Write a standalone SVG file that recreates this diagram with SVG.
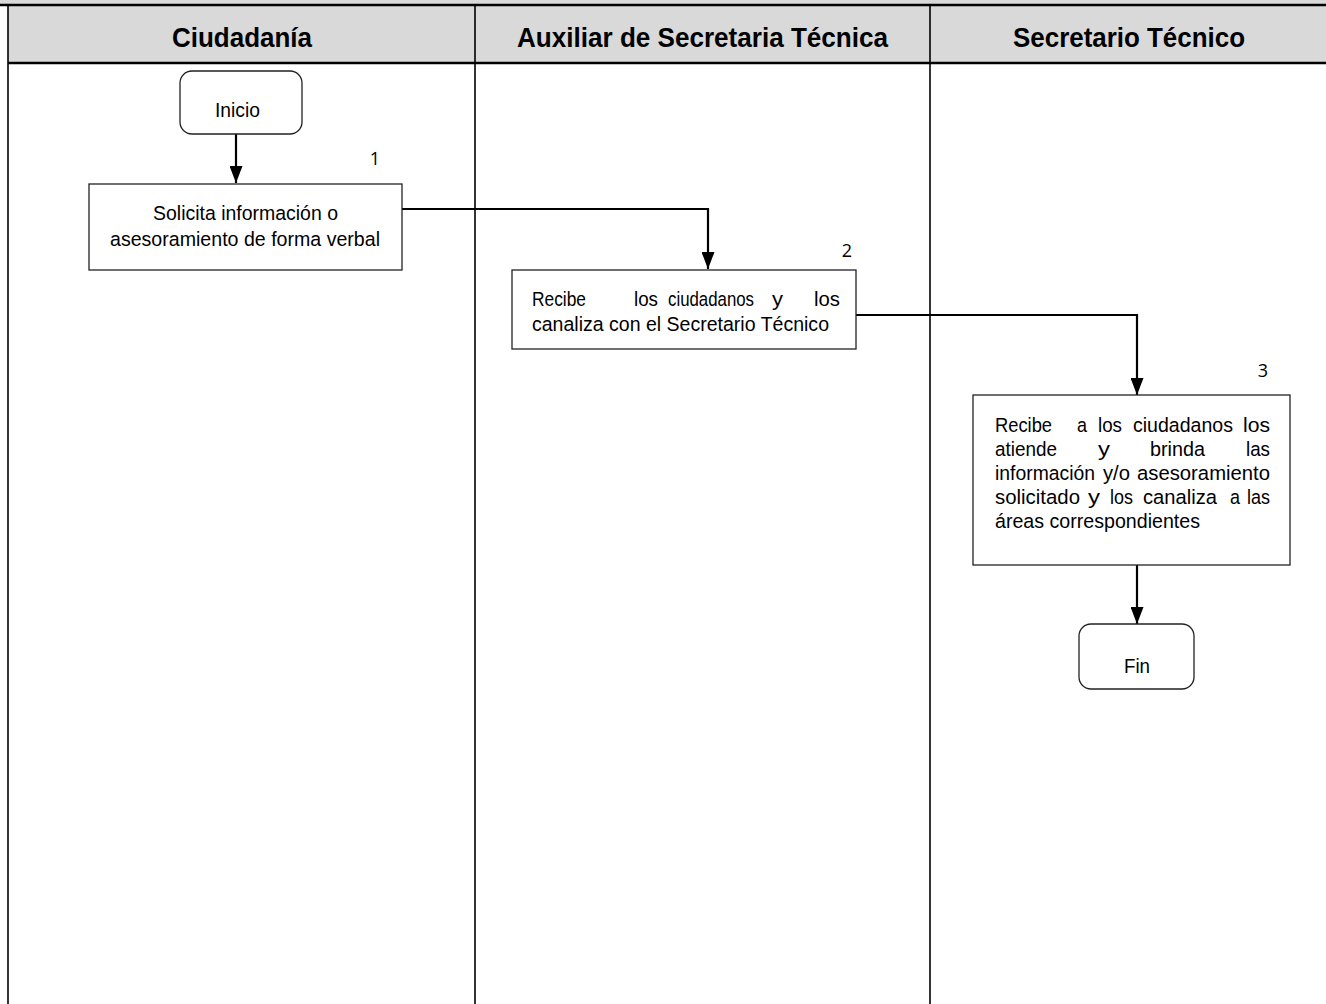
<svg xmlns="http://www.w3.org/2000/svg" width="1326" height="1004" viewBox="0 0 1326 1004">
  <style>
    .lane { stroke: #000; stroke-width: 1.6; }
    .hline { stroke: #000; stroke-width: 2.5; }
    .hdr { font-family: "Liberation Sans", Arial, sans-serif; font-weight: bold; font-size: 27px; fill: #000; }
    .box { fill: #fff; stroke: #222; stroke-width: 1.3; }
    .txt { font-family: "Liberation Sans", Arial, sans-serif; font-size: 20.5px; fill: #000; }
    .num { font-family: "Open Sans", "Noto Sans", sans-serif; font-size: 18px; fill: #000; text-anchor: middle; }
    .conn { fill: none; stroke: #000; stroke-width: 2.2; }
  </style>
  <defs>
    <marker id="arrow" viewBox="0 0 17 13" refX="17" refY="6.5" markerWidth="17" markerHeight="13" markerUnits="userSpaceOnUse" orient="auto">
      <path d="M0,0 L17,6.5 L0,13 z" fill="#000"/>
    </marker>
  </defs>

  <rect width="1326" height="1004" fill="#fff"/>

  <!-- header band -->
  <g id="header">
    <rect x="0" y="0" width="1326" height="5" fill="#d9d9d9"/>
    <rect x="8" y="5" width="1318" height="58" fill="#d9d9d9"/>
    <line class="hline" x1="0" y1="5" x2="1326" y2="5"/>
    <line class="hline" x1="8" y1="63" x2="1326" y2="63"/>
    <text class="hdr" x="172" y="47" textLength="140" lengthAdjust="spacingAndGlyphs">Ciudadanía</text>
    <text class="hdr" x="517" y="47" textLength="371" lengthAdjust="spacingAndGlyphs">Auxiliar de Secretaria Técnica</text>
    <text class="hdr" x="1013" y="47" textLength="232" lengthAdjust="spacingAndGlyphs">Secretario Técnico</text>
  </g>

  <!-- swimlane borders -->
  <g id="lanes">
    <line class="lane" x1="8" y1="5" x2="8" y2="1004" stroke-width="2"/>
    <line class="lane" x1="475" y1="5" x2="475" y2="1004"/>
    <line class="lane" x1="930" y1="5" x2="930" y2="1004"/>
  </g>

  <!-- connectors -->
  <g id="connectors">
    <path class="conn" d="M236,134 V183" marker-end="url(#arrow)"/>
    <path class="conn" d="M402,209 H708 V269" marker-end="url(#arrow)"/>
    <path class="conn" d="M856,315 H1137 V395" marker-end="url(#arrow)"/>
    <path class="conn" d="M1137,565 V624" marker-end="url(#arrow)"/>
  </g>

  <g id="inicio">
    <rect class="box" x="180" y="71" width="122" height="63" rx="12"/>
    <text class="txt" x="215" y="117" textLength="45" lengthAdjust="spacingAndGlyphs">Inicio</text>
  </g>

  <g id="step1">
    <text class="num" x="375" y="165">1</text>
    <rect class="box" x="89" y="184" width="313" height="86"/>
    <text class="txt" x="153" y="220" textLength="185" lengthAdjust="spacingAndGlyphs">Solicita información o</text>
    <text class="txt" x="110" y="246" textLength="270" lengthAdjust="spacingAndGlyphs">asesoramiento de forma verbal</text>
  </g>

  <g id="step2">
    <text class="num" x="847" y="257">2</text>
    <rect class="box" x="512" y="270" width="344" height="79"/>
    <text class="txt" x="532" y="306" textLength="54" lengthAdjust="spacingAndGlyphs">Recibe</text>
    <text class="txt" x="634" y="306" textLength="24" lengthAdjust="spacingAndGlyphs">los</text>
    <text class="txt" x="668" y="306" textLength="86" lengthAdjust="spacingAndGlyphs">ciudadanos</text>
    <text class="txt" x="772" y="306" textLength="11" lengthAdjust="spacingAndGlyphs">y</text>
    <text class="txt" x="814" y="306" textLength="26" lengthAdjust="spacingAndGlyphs">los</text>
    <text class="txt" x="532" y="331" textLength="297" lengthAdjust="spacingAndGlyphs">canaliza con el Secretario Técnico</text>
  </g>

  <g id="step3">
    <text class="num" x="1263" y="377">3</text>
    <rect class="box" x="973" y="395" width="317" height="170"/>
    <text class="txt" x="995" y="432" textLength="57" lengthAdjust="spacingAndGlyphs">Recibe</text>
    <text class="txt" x="1077" y="432" textLength="10" lengthAdjust="spacingAndGlyphs">a</text>
    <text class="txt" x="1098" y="432" textLength="24" lengthAdjust="spacingAndGlyphs">los</text>
    <text class="txt" x="1133" y="432" textLength="100" lengthAdjust="spacingAndGlyphs">ciudadanos</text>
    <text class="txt" x="1243" y="432" textLength="27" lengthAdjust="spacingAndGlyphs">los</text>

    <text class="txt" x="995" y="456" textLength="62" lengthAdjust="spacingAndGlyphs">atiende</text>
    <text class="txt" x="1098" y="456" textLength="12" lengthAdjust="spacingAndGlyphs">y</text>
    <text class="txt" x="1150" y="456" textLength="55" lengthAdjust="spacingAndGlyphs">brinda</text>
    <text class="txt" x="1246" y="456" textLength="24" lengthAdjust="spacingAndGlyphs">las</text>

    <text class="txt" x="995" y="480" textLength="100" lengthAdjust="spacingAndGlyphs">información</text>
    <text class="txt" x="1103" y="480" textLength="27" lengthAdjust="spacingAndGlyphs">y/o</text>
    <text class="txt" x="1137" y="480" textLength="133" lengthAdjust="spacingAndGlyphs">asesoramiento</text>

    <text class="txt" x="995" y="504" textLength="85" lengthAdjust="spacingAndGlyphs">solicitado</text>
    <text class="txt" x="1088" y="504" textLength="12" lengthAdjust="spacingAndGlyphs">y</text>
    <text class="txt" x="1110" y="504" textLength="23" lengthAdjust="spacingAndGlyphs">los</text>
    <text class="txt" x="1143" y="504" textLength="74" lengthAdjust="spacingAndGlyphs">canaliza</text>
    <text class="txt" x="1230" y="504" textLength="10" lengthAdjust="spacingAndGlyphs">a</text>
    <text class="txt" x="1247" y="504" textLength="23" lengthAdjust="spacingAndGlyphs">las</text>

    <text class="txt" x="995" y="528" textLength="205" lengthAdjust="spacingAndGlyphs">áreas correspondientes</text>
  </g>

  <g id="fin">
    <rect class="box" x="1079" y="624" width="115" height="65" rx="12"/>
    <text class="txt" x="1124" y="673" textLength="26" lengthAdjust="spacingAndGlyphs">Fin</text>
  </g>
</svg>
